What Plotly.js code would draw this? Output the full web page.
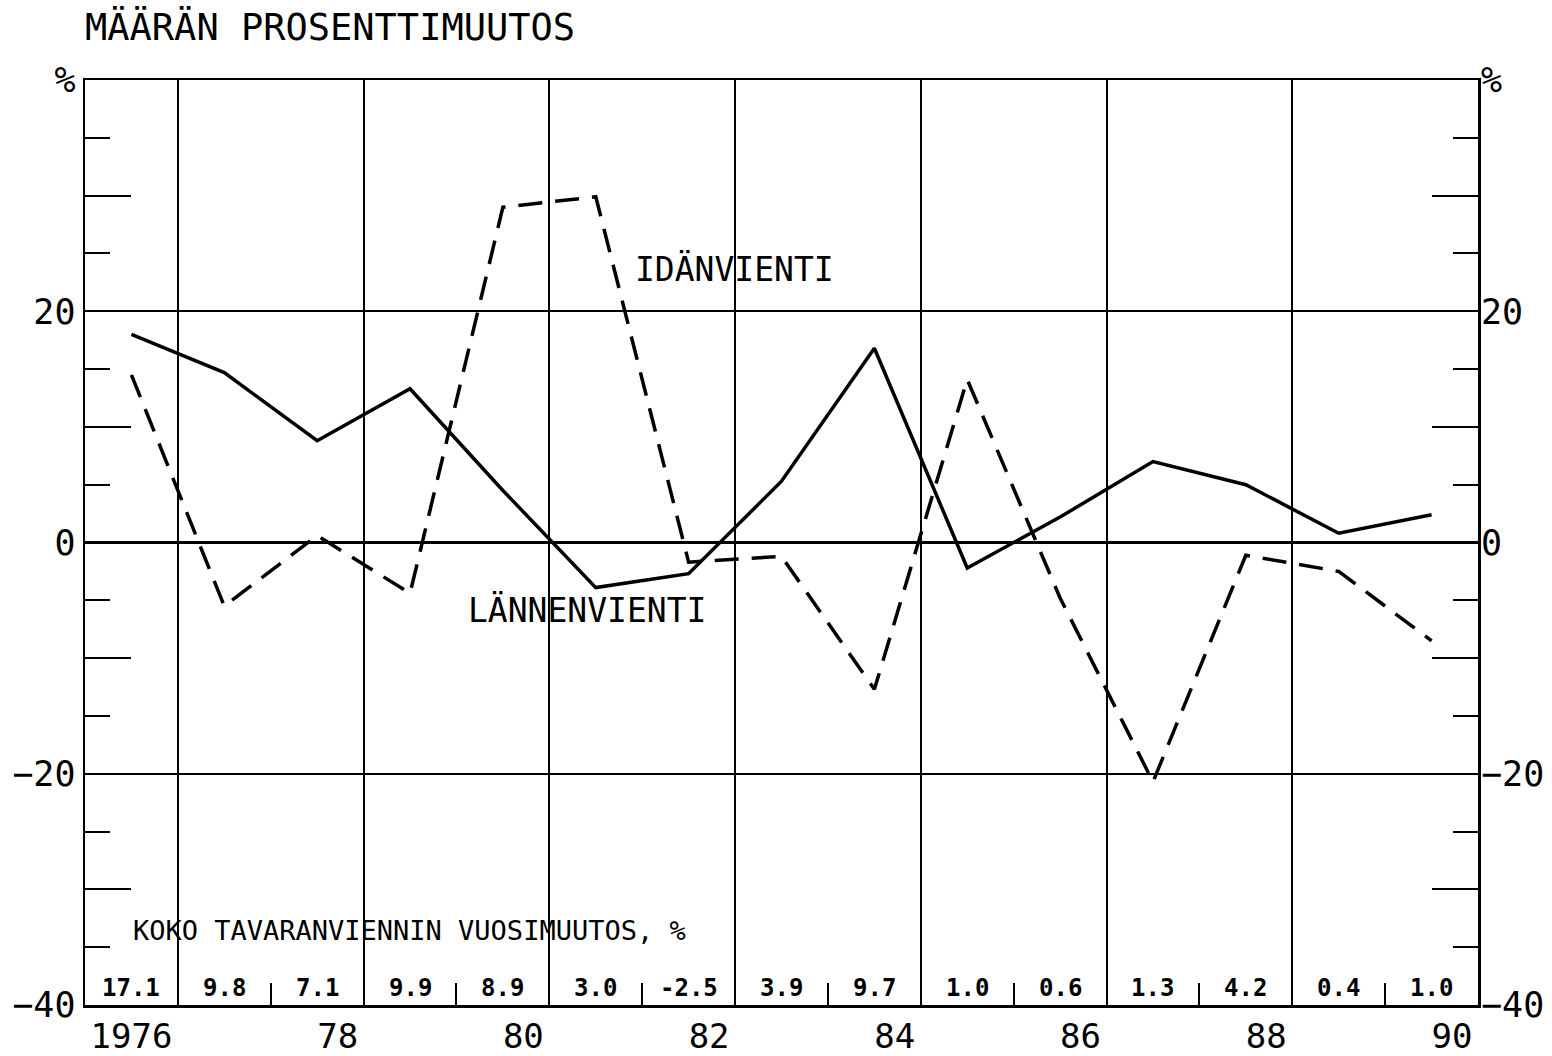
<!DOCTYPE html>
<html>
<head>
<meta charset="utf-8">
<script src="https://cdn.plot.ly/plotly-3.0.1.min.js"></script>
<style>html,body{margin:0;padding:0;background:#fff;}#chart{width:1552px;height:1056px;}</style>
</head>
<body>
<div id="chart"></div>
<script>
// ---- data ----
const years = [1976,1977,1978,1979,1980,1981,1982,1983,1984,1985,1986,1987,1988,1989,1990];
const lannenvienti = [18.0,14.7,8.8,13.3,4.5,-3.9,-2.7,5.3,16.8,-2.2,2.2,7.0,5.0,0.8,2.4];
const idanvienti = [14.5,-5.5,0.6,-4.4,29.0,29.9,-1.7,-1.2,-12.7,14.1,-4.8,-20.7,-1.1,-2.5,-8.5];
const kokoVienti = ['17.1','9.8','7.1','9.9','8.9','3.0','-2.5','3.9','9.7','1.0','0.6','1.3','4.2','0.4','1.0'];
const xTickVals = [1976,1978,1980,1982,1984,1986,1988,1990];
const xTickText = ['1976','78','80','82','84','86','88','90'];
const xGridVals = [1976.5,1978.5,1980.5,1982.5,1984.5,1986.5,1988.5];
const xSepVals = [1977.5,1979.5,1981.5,1983.5,1985.5,1987.5,1989.5];
const yLabelVals = [-40,-20,0,20,40];
const yLabelText = ['\u221240','\u221220','0','20','%'];
const yLongTicks = [-30,-10,10,30];
const yShortTicks = [-35,-25,-15,-5,5,15,25,35];
const titleText = 'MÄÄRÄN PROSENTTIMUUTOS';
const idanLabel = {text:'IDÄNVIENTI', x:1981.4, y:23.6};
const lannenLabel = {text:'LÄNNENVIENTI', x:1979.6, y:-5.9};
const kokoTitle = 'KOKO TAVARANVIENNIN VUOSIMUUTOS, %';

const FONT = 'DejaVu Sans Mono, Liberation Mono, monospace';
const pad = s => '\u00a0'.repeat(Math.max(0, 4 - s.length)) + s;

const traces = [
  {x: years, y: lannenvienti, type:'scatter', mode:'lines', name:'Lännenvienti',
   line:{color:'#000', width:3.5, dash:'solid'}, xaxis:'x', yaxis:'y', showlegend:false},
  {x: years, y: idanvienti, type:'scatter', mode:'lines', name:'Idänvienti',
   line:{color:'#000', width:3.5, dash:'24px,13px'}, xaxis:'x', yaxis:'y', showlegend:false}
];

const yr = [-40, 40];
const xr = [1975.5, 1990.5];

const annotations = [
  {text: idanLabel.text, x: idanLabel.x, y: idanLabel.y, xref:'x', yref:'y', xanchor:'left', yanchor:'middle',
   showarrow:false, font:{family:FONT, size:33, color:'#000'}},
  {text: lannenLabel.text, x: lannenLabel.x, y: lannenLabel.y, xref:'x', yref:'y', xanchor:'left', yanchor:'middle',
   showarrow:false, font:{family:FONT, size:33, color:'#000'}},
  {text: kokoTitle, x: years[0], y: 0.081, xref:'x', yref:'paper', xanchor:'left', yanchor:'middle',
   showarrow:false, font:{family:FONT, size:27, color:'#000'}}
];
years.forEach((yy, i) => {
  annotations.push({text: kokoVienti[i], x: yy, y: 0.018, xref:'x', yref:'paper', xanchor:'center', yanchor:'middle',
    showarrow:false, font:{family:FONT, size:24, color:'#000', weight:'bold'}});
});

const layout = {
  width: 1552, height: 1056,
  margin: {l:85, r:74, t:80, b:51},
  paper_bgcolor:'#fff', plot_bgcolor:'#fff',
  showlegend:false,
  title: {text: titleText, x: 85/1552, xref:'container', xanchor:'left', y: 1 - 27/1056, yref:'container', yanchor:'middle',
          font:{family:FONT, size:37, color:'#000'}},
  font: {family: FONT, color:'#000'},
  xaxis: {range: xr, tickmode:'array', tickvals: xTickVals, ticktext: xTickText.map(pad),
          showgrid:false, zeroline:false, ticks:'', ticklen:0, ticklabelstandoff:0, showline:true, mirror:true, linecolor:'#000', linewidth:2.5,
          tickfont:{family:FONT, size:34, color:'#000'}, fixedrange:true},
  xaxis2: {range: xr, overlaying:'x', side:'bottom', anchor:'y', tickmode:'array', tickvals: xGridVals,
           showgrid:true, gridcolor:'#000', gridwidth:2, showticklabels:false, ticks:'', zeroline:false, showline:false,
           minor:{tickmode:'array', tickvals: xSepVals, ticks:'inside', ticklen:22, tickwidth:2, tickcolor:'#000', showgrid:false}},
  yaxis: {range: yr, tickmode:'array', tickvals: yLabelVals, ticktext: yLabelText,
          showgrid:true, gridcolor:'#000', gridwidth:2, zeroline:true, zerolinecolor:'#000', zerolinewidth:3,
          ticks:'', ticklen:0, showline:true, mirror:true, linecolor:'#000', linewidth:2.5, ticklabelstandoff:0,
          tickfont:{family:FONT, size:35, color:'#000'}, fixedrange:true},
  yaxis2: {range: yr, overlaying:'y', side:'left', anchor:'x', tickmode:'array', tickvals: yLongTicks,
           ticks:'inside', ticklen:46, tickwidth:2, tickcolor:'#000', showticklabels:false, showgrid:false, zeroline:false,
           minor:{tickmode:'array', tickvals: yShortTicks, ticks:'inside', ticklen:25, tickwidth:2, tickcolor:'#000', showgrid:false}},
  yaxis3: {range: yr, overlaying:'y', side:'right', anchor:'x', tickmode:'array', tickvals: yLabelVals, ticktext: yLabelText,
           ticks:'', ticklen:0, showgrid:false, zeroline:false, ticklabelstandoff:2,
           tickfont:{family:FONT, size:35, color:'#000'}},
  yaxis4: {range: yr, overlaying:'y', side:'right', anchor:'x', tickmode:'array', tickvals: yLongTicks,
           ticks:'inside', ticklen:46, tickwidth:2, tickcolor:'#000', showticklabels:false, showgrid:false, zeroline:false,
           minor:{tickmode:'array', tickvals: yShortTicks, ticks:'inside', ticklen:25, tickwidth:2, tickcolor:'#000', showgrid:false}},
  annotations: annotations
};

// invisible helper traces so the overlaying axes are drawn
const axisTraces = [
  {x: [xr[0]], y:[0], xaxis:'x2', yaxis:'y', mode:'markers', marker:{opacity:0}, hoverinfo:'skip', showlegend:false, type:'scatter'},
  {x: [xr[0]], y:[0], xaxis:'x', yaxis:'y2', mode:'markers', marker:{opacity:0}, hoverinfo:'skip', showlegend:false, type:'scatter'},
  {x: [xr[0]], y:[0], xaxis:'x', yaxis:'y3', mode:'markers', marker:{opacity:0}, hoverinfo:'skip', showlegend:false, type:'scatter'},
  {x: [xr[0]], y:[0], xaxis:'x', yaxis:'y4', mode:'markers', marker:{opacity:0}, hoverinfo:'skip', showlegend:false, type:'scatter'}
];

Plotly.newPlot('chart', axisTraces.concat(traces), layout, {staticPlot:true, displayModeBar:false});
</script>
</body>
</html>
